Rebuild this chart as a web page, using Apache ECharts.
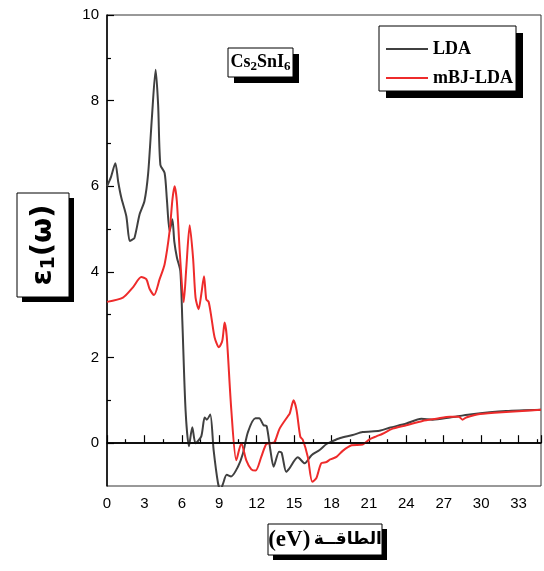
<!DOCTYPE html>
<html>
<head>
<meta charset="utf-8">
<script src="https://cdn.jsdelivr.net/npm/echarts@6/dist/echarts.min.js"></script>
<style>html,body{margin:0;padding:0;background:#fff}#c{width:544px;height:571px}</style>
</head>
<body>
<div id="c"></div>
<script>
// energy (eV) and epsilon_1 values
const ldaX = [0,0.3,0.67,0.9,1.15,1.55,1.82,2.0,2.2,2.62,3.0,3.3,3.6,3.9,4.1,4.28,4.62,4.8,5.02,5.24,5.4,5.61,5.88,6.04,6.3,6.57,6.84,7.1,7.56,7.83,8.0,8.28,8.55,8.9,9.1,9.3,9.6,9.95,10.5,10.9,11.3,11.9,12.2,12.56,12.8,13.1,13.36,13.8,14.0,14.37,14.6,15.3,15.85,16.4,17.05,17.6,18.1,18.7,19.7,20.5,21.85,22.65,24.0,25.2,26.1,27.5,29.1,32.0,34.8];
const ldaY = [6.0,6.2,6.54,6.1,5.73,5.3,4.72,4.75,4.79,5.35,5.65,6.3,7.6,8.72,7.9,6.5,6.31,5.7,4.95,5.23,4.7,4.33,4.02,2.86,0.77,-0.07,0.37,0.0,0.16,0.6,0.55,0.67,-0.16,-0.93,-1.1,-0.95,-0.74,-0.78,-0.55,-0.24,0.26,0.58,0.58,0.42,0.4,-0.16,-0.55,-0.2,-0.22,-0.67,-0.6,-0.33,-0.47,-0.28,-0.16,-0.02,0.05,0.12,0.19,0.26,0.29,0.36,0.46,0.57,0.55,0.6,0.67,0.75,0.78];
const mbjX = [0,1.28,2.08,2.75,3.15,3.42,3.77,4.22,4.62,5.02,5.25,5.42,5.6,5.83,6.15,6.36,6.63,6.9,7.1,7.35,7.57,7.78,7.96,8.15,8.37,8.63,8.98,9.25,9.43,9.6,9.97,10.37,10.77,11.17,11.57,11.92,12.37,12.77,13.15,13.44,13.84,14.5,14.65,14.96,15.2,15.5,15.7,16.1,16.46,16.78,17.18,17.6,17.9,18.4,18.9,19.6,20.5,21.05,21.6,22.1,22.9,24.0,25.3,26.4,27.5,28.2,28.5,28.8,29.9,32.0,34.8];
const mbjY = [3.30,3.40,3.64,3.88,3.83,3.6,3.46,3.83,4.18,4.95,5.7,6.0,5.65,4.49,3.29,4.1,5.09,4.33,3.4,3.13,3.5,3.9,3.36,3.3,2.94,2.47,2.24,2.4,2.82,2.5,0.77,-0.4,0.0,-0.4,-0.61,-0.64,-0.32,-0.02,0.0,0.03,0.34,0.63,0.69,1.0,0.77,0.15,0.08,-0.32,-0.9,-0.82,-0.47,-0.44,-0.38,-0.32,-0.18,-0.05,-0.03,0.09,0.16,0.22,0.34,0.42,0.52,0.57,0.62,0.62,0.55,0.6,0.68,0.73,0.78];
const yMajor = [0,2,4,6,8,10];
const yMinor = [1,3,5,7,9];
const seriesNames = ['LDA','mBJ-LDA'];
const xTitleUnit = '(eV)';
const xTitleWord = 'الطاقــة';

const zip = (xs, ys) => xs.map((x, i) => [x, ys[i]]);
const chart = echarts.init(document.getElementById('c'));
const serif = '"Liberation Serif","Times New Roman","DejaVu Serif",serif';
const narrow = '"Liberation Sans Narrow","Liberation Sans",Arial,sans-serif';

function box(x, y, w, h, off) {
  return [
    {type:'rect', z:20, shape:{x:x+off, y:y+off, width:w, height:h}, style:{fill:'#000'}},
    {type:'rect', z:21, shape:{x:x, y:y, width:w, height:h}, style:{fill:'#fff', stroke:'#000', lineWidth:1}}
  ];
}

chart.setOption({
  animation:false,
  grid:{left:107, right:3, top:15, bottom:85, show:true, borderColor:'#333', borderWidth:1},
  xAxis:{type:'value', min:0, max:34.8, interval:3,
    axisLine:{show:true, lineStyle:{color:'#000', width:1.5}},
    axisTick:{show:true, inside:true, length:8, lineStyle:{color:'#000', width:1.2}},
    minorTick:{show:true, splitNumber:2, length:4, lineStyle:{color:'#000', width:1.2}},
    splitLine:{show:false},
    axisLabel:{color:'#000', fontFamily:narrow, fontSize:15, margin:10, showMaxLabel:false}
  },
  yAxis:[
    {type:'value', min:-1, max:10, position:'left',
      axisLine:{show:true, lineStyle:{color:'#000', width:1.5}},
      axisTick:{show:true, inside:true, length:7, customValues:yMajor, lineStyle:{color:'#000', width:1.2}},
      splitLine:{show:false},
      axisLabel:{color:'#000', fontFamily:narrow, fontSize:15, margin:8, customValues:yMajor}
    },
    {type:'value', min:-1, max:10, position:'left',
      axisLine:{show:false},
      axisTick:{show:true, inside:true, length:4, customValues:yMinor, lineStyle:{color:'#000', width:1.2}},
      splitLine:{show:false},
      axisLabel:{show:false}
    }
  ],
  legend:{show:true, orient:'vertical', left:381, top:35, itemGap:11, itemWidth:42, itemHeight:2, icon:'rect', z:30,
    textStyle:{fontFamily:serif, fontWeight:'bold', fontSize:18, color:'#000', padding:[0,0,0,0]},
    data:seriesNames},
  series:[
    {name:seriesNames[0], type:'line', yAxisIndex:0, data:zip(ldaX, ldaY), showSymbol:false, smooth:0.25,
      lineStyle:{color:'#404040', width:2}, itemStyle:{color:'#404040'},
      markLine:{silent:true, symbol:'none', label:{show:false}, lineStyle:{color:'#000', width:1.5, type:'solid'}, data:[{yAxis:0}]}},
    {name:seriesNames[1], type:'line', yAxisIndex:0, data:zip(mbjX, mbjY), showSymbol:false, smooth:0.25,
      lineStyle:{color:'#ee2b2b', width:2}, itemStyle:{color:'#ee2b2b'}}
  ],
  graphic:[
    ...box(379, 26, 137, 65, 7),
    ...box(228, 48, 65, 29, 6),
    {type:'text', z:22, x:260.5, y:62, style:{text:'Cs{s|2}SnI{s|6}', align:'center', verticalAlign:'middle',
      font:'bold 18px '+serif, fill:'#000',
      rich:{s:{font:'bold 13px '+serif, fill:'#000', padding:[9,0,0,0]}}}},
    ...box(17, 193, 52, 104, 5),
    {type:'text', z:22, x:43, y:245, rotation:Math.PI/2, style:{text:'ε{s|1}(ω)', align:'center', verticalAlign:'middle',
      font:'bold 29px "DejaVu Sans",sans-serif', fill:'#000',
      rich:{s:{font:'bold 19px "DejaVu Sans",sans-serif', fill:'#000', padding:[12,0,0,0]}}}},
    ...box(268, 524, 114, 31, 5),
    {type:'text', z:22, x:325, y:540, style:{text:'{u|'+xTitleUnit+'} {a|'+xTitleWord+'}', align:'center', verticalAlign:'middle',
      fill:'#000',
      rich:{u:{font:'bold 23px '+serif, fill:'#000'}, a:{font:'bold 17px "DejaVu Sans",sans-serif', fill:'#000'}}}}
  ]
});
</script>
</body>
</html>
